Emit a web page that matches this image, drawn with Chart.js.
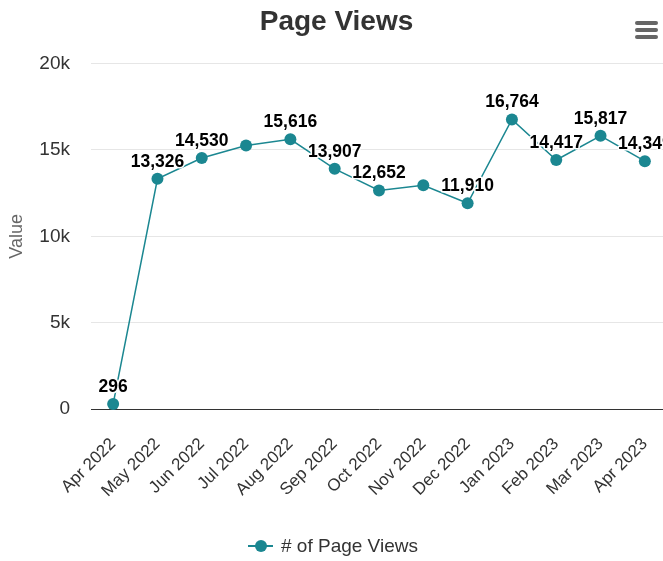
<!DOCTYPE html>
<html>
<head>
<meta charset="utf-8">
<script src="https://cdn.jsdelivr.net/npm/chart.js@4"></script>
<style>
  html, body { margin: 0; padding: 0; background: #fff; overflow: hidden; }
  /* canvas a bit wider than the window: the plot runs off the right edge like the original */
  #wrap { width: 673px; height: 561px; position: relative; }
</style>
</head>
<body>
<div id="wrap"><canvas id="chart"></canvas></div>
<script>
const months = ['Apr 2022', 'May 2022', 'Jun 2022', 'Jul 2022', 'Aug 2022', 'Sep 2022', 'Oct 2022',
  'Nov 2022', 'Dec 2022', 'Jan 2023', 'Feb 2023', 'Mar 2023', 'Apr 2023'];
const pageViews = [296, 13326, 14530, 15260, 15616, 13907, 12652, 12950, 11910, 16764, 14417, 15817, 14349];
// which points carry a value label (Jul and Nov have none in the original)
const showLabel = [true, true, true, false, true, true, true, false, true, true, true, true, true];
const yTicks = [0, 5000, 10000, 15000, 20000];
const seriesName = '# of Page Views';

const LINE = '#1b8791';
const FONT = "'Liberation Sans', Arial, sans-serif";

Chart.defaults.font.family = FONT;
Chart.defaults.color = '#333';

const valueLabels = {
  id: 'valueLabels',
  afterDatasetsDraw(chart) {
    const ctx = chart.ctx;
    const meta = chart.getDatasetMeta(0);
    ctx.save();
    ctx.font = 'bold 17.5px ' + FONT;
    ctx.textAlign = 'center';
    ctx.textBaseline = 'middle';
    ctx.lineJoin = 'round';
    meta.data.forEach((pt, i) => {
      if (!showLabel[i]) return;
      const txt = pageViews[i].toLocaleString('en-US');
      ctx.strokeStyle = '#fff';
      ctx.lineWidth = 3;
      ctx.strokeText(txt, pt.x, pt.y - 17);
      ctx.fillStyle = '#000';
      ctx.fillText(txt, pt.x, pt.y - 17);
    });
    ctx.restore();
  },
};

// hamburger menu + bottom legend (line with dot), drawn by hand
const extras = {
  id: 'extras',
  afterDraw(chart) {
    const ctx = chart.ctx;
    ctx.save();
    ctx.strokeStyle = '#666';
    ctx.lineWidth = 4;
    ctx.lineCap = 'round';
    [23, 30, 37].forEach((y) => {
      ctx.beginPath(); ctx.moveTo(637, y); ctx.lineTo(656, y); ctx.stroke();
    });

    const ly = 546;
    ctx.strokeStyle = LINE;
    ctx.lineWidth = 2;
    ctx.lineCap = 'butt';
    ctx.beginPath(); ctx.moveTo(248, ly); ctx.lineTo(273, ly); ctx.stroke();
    ctx.fillStyle = LINE;
    ctx.beginPath(); ctx.arc(261, ly, 6, 0, Math.PI * 2); ctx.fill();
    ctx.fillStyle = '#333';
    ctx.font = '19px ' + FONT;
    ctx.textAlign = 'left';
    ctx.textBaseline = 'middle';
    ctx.fillText(seriesName, 281, ly + 1);
    ctx.restore();
  },
};

new Chart(document.getElementById('chart'), {
  type: 'line',
  data: {
    labels: months,
    datasets: [{
      label: seriesName,
      data: pageViews,
      borderColor: LINE,
      backgroundColor: LINE,
      borderWidth: 1.5,
      pointRadius: 6,
      pointHoverRadius: 6,
      pointBackgroundColor: LINE,
      pointBorderWidth: 0,
      tension: 0,
      clip: false,
    }],
  },
  options: {
    responsive: true,
    maintainAspectRatio: false,
    animation: false,
    layout: { padding: { left: 0, right: 0, top: 0, bottom: 64 } },
    plugins: {
      title: {
        display: true,
        text: 'Page Views',
        font: { size: 28, weight: 'bold' },
        color: '#333',
        padding: { top: 5, bottom: 25 },
      },
      legend: { display: false },
      tooltip: { enabled: false },
    },
    scales: {
      x: {
        offset: true,
        clip: false,
        grid: { display: false, drawTicks: false },
        border: { display: true, color: '#333', width: 1 },
        ticks: {
          minRotation: 45,
          maxRotation: 45,
          font: { size: 17 },
          color: '#333',
          padding: 25,
          autoSkip: false,
        },
        afterFit: (scale) => {
          scale.height = 88;
          scale.paddingLeft = 0;
          scale.paddingRight = 0;
        },
      },
      y: {
        min: 0,
        max: 20000,
        clip: false,
        afterBuildTicks: (axis) => { axis.ticks = yTicks.map((v) => ({ value: v })); },
        afterFit: (scale) => { scale.width = 91; },
        grid: { color: '#e6e6e6', drawTicks: false },
        border: { display: false },
        ticks: {
          font: { size: 19 },
          color: '#333',
          padding: 21,
          callback: (v) => (v === 0 ? '0' : v / 1000 + 'k'),
        },
        title: {
          display: true,
          text: 'Value',
          font: { size: 18 },
          color: '#666',
          padding: { top: 6, bottom: 12 },
        },
      },
    },
  },
  plugins: [valueLabels, extras],
});
</script>
</body>
</html>
